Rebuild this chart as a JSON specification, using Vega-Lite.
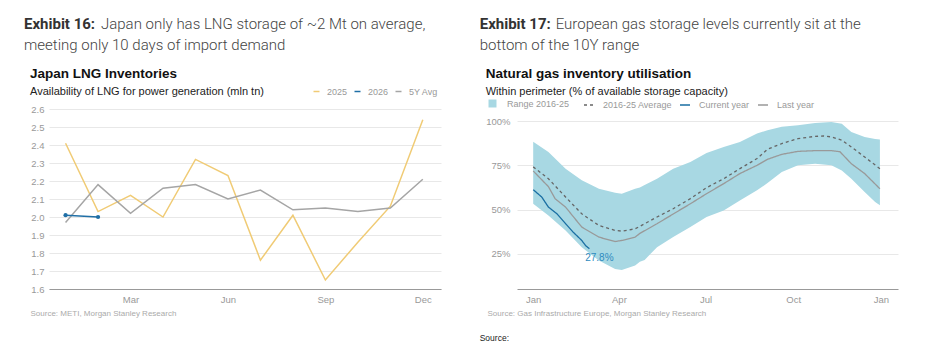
{
  "$schema": "https://vega.github.io/schema/vega-lite/v6.json",
  "background": "white",
  "padding": {"left": 24, "top": 16, "right": 5, "bottom": 5},
  "spacing": 38,
  "resolve": {"scale": {"color": "independent", "fill": "independent", "stroke": "independent", "strokeDash": "independent"}, "legend": {"color": "independent", "fill": "independent", "stroke": "independent", "strokeDash": "independent"}},
  "config": {
    "view": {"stroke": null},
    "font": "Liberation Sans",
    "axis": {"labelFont": "Liberation Sans", "labelColor": "#999999", "labelFontSize": 9.5, "gridColor": "#e8e8e8", "gridWidth": 1, "domainColor": "#aaaaaa", "ticks": false},
    "legend": {"labelFont": "Liberation Sans", "labelColor": "#999999", "labelFontSize": 9, "title": null, "gridAlign": "none"}
  },
  "datasets": {
    "jp": [
      {"m": 1, "s": "2025", "v": 2.41}, {"m": 2, "s": "2025", "v": 2.03}, {"m": 3, "s": "2025", "v": 2.12}, {"m": 4, "s": "2025", "v": 2.00},
      {"m": 5, "s": "2025", "v": 2.32}, {"m": 6, "s": "2025", "v": 2.23}, {"m": 7, "s": "2025", "v": 1.76}, {"m": 8, "s": "2025", "v": 2.01},
      {"m": 9, "s": "2025", "v": 1.65}, {"m": 10, "s": "2025", "v": 1.86}, {"m": 11, "s": "2025", "v": 2.06}, {"m": 12, "s": "2025", "v": 2.54},
      {"m": 1, "s": "5Y Avg", "v": 1.97}, {"m": 2, "s": "5Y Avg", "v": 2.18}, {"m": 3, "s": "5Y Avg", "v": 2.02}, {"m": 4, "s": "5Y Avg", "v": 2.16},
      {"m": 5, "s": "5Y Avg", "v": 2.18}, {"m": 6, "s": "5Y Avg", "v": 2.10}, {"m": 7, "s": "5Y Avg", "v": 2.15}, {"m": 8, "s": "5Y Avg", "v": 2.04},
      {"m": 9, "s": "5Y Avg", "v": 2.05}, {"m": 10, "s": "5Y Avg", "v": 2.03}, {"m": 11, "s": "5Y Avg", "v": 2.05}, {"m": 12, "s": "5Y Avg", "v": 2.21},
      {"m": 1, "s": "2026", "v": 2.01}, {"m": 2, "s": "2026", "v": 2.00}
    ],
    "band": [
      {"d": "2025-01-01", "lo": 53.3, "hi": 88.4}, {"d": "2025-01-17", "lo": 46.7, "hi": 82.7}, {"d": "2025-02-04", "lo": 38.2, "hi": 73.2},
      {"d": "2025-02-21", "lo": 28.7, "hi": 66.6}, {"d": "2025-03-11", "lo": 21.1, "hi": 61.8}, {"d": "2025-03-28", "lo": 16.4, "hi": 59.6},
      {"d": "2025-04-04", "lo": 15.8, "hi": 59.0}, {"d": "2025-04-18", "lo": 18.3, "hi": 61.8}, {"d": "2025-04-23", "lo": 20.5, "hi": 62.5},
      {"d": "2025-04-28", "lo": 21.5, "hi": 64.0}, {"d": "2025-05-11", "lo": 28.7, "hi": 67.5}, {"d": "2025-05-28", "lo": 34.4, "hi": 73.2},
      {"d": "2025-06-15", "lo": 40.1, "hi": 77.0}, {"d": "2025-07-02", "lo": 45.8, "hi": 82.1}, {"d": "2025-07-20", "lo": 49.5, "hi": 85.5},
      {"d": "2025-08-06", "lo": 55.2, "hi": 88.3}, {"d": "2025-08-24", "lo": 60.9, "hi": 93.1}, {"d": "2025-09-04", "lo": 65.0, "hi": 95.0},
      {"d": "2025-09-19", "lo": 71.3, "hi": 96.9}, {"d": "2025-10-06", "lo": 75.1, "hi": 97.8}, {"d": "2025-10-24", "lo": 76.0, "hi": 99.1},
      {"d": "2025-11-10", "lo": 75.1, "hi": 99.7}, {"d": "2025-11-21", "lo": 72.2, "hi": 98.7}, {"d": "2025-12-01", "lo": 67.5, "hi": 94.0},
      {"d": "2025-12-15", "lo": 60.0, "hi": 91.2}, {"d": "2025-12-26", "lo": 54.3, "hi": 90.0}, {"d": "2025-12-31", "lo": 52.4, "hi": 89.7}
    ],
    "eu": [
      {"d": "2025-01-01", "s": "2016-25 Average", "v": 74.2}, {"d": "2025-01-17", "s": "2016-25 Average", "v": 67.5}, {"d": "2025-02-04", "s": "2016-25 Average", "v": 57.1},
      {"d": "2025-02-21", "s": "2016-25 Average", "v": 47.6}, {"d": "2025-03-11", "s": "2016-25 Average", "v": 41.0}, {"d": "2025-03-28", "s": "2016-25 Average", "v": 38.2},
      {"d": "2025-04-04", "s": "2016-25 Average", "v": 37.8}, {"d": "2025-04-18", "s": "2016-25 Average", "v": 39.1}, {"d": "2025-04-23", "s": "2016-25 Average", "v": 40.5},
      {"d": "2025-05-11", "s": "2016-25 Average", "v": 45.8}, {"d": "2025-05-28", "s": "2016-25 Average", "v": 50.5}, {"d": "2025-06-15", "s": "2016-25 Average", "v": 56.2},
      {"d": "2025-07-02", "s": "2016-25 Average", "v": 62.4}, {"d": "2025-07-20", "s": "2016-25 Average", "v": 67.5}, {"d": "2025-08-06", "s": "2016-25 Average", "v": 73.2},
      {"d": "2025-08-24", "s": "2016-25 Average", "v": 78.9}, {"d": "2025-09-04", "s": "2016-25 Average", "v": 84.2}, {"d": "2025-09-19", "s": "2016-25 Average", "v": 87.4},
      {"d": "2025-10-06", "s": "2016-25 Average", "v": 90.2}, {"d": "2025-10-24", "s": "2016-25 Average", "v": 91.5}, {"d": "2025-11-02", "s": "2016-25 Average", "v": 91.7},
      {"d": "2025-11-10", "s": "2016-25 Average", "v": 91.2}, {"d": "2025-11-21", "s": "2016-25 Average", "v": 89.3}, {"d": "2025-12-01", "s": "2016-25 Average", "v": 85.5},
      {"d": "2025-12-15", "s": "2016-25 Average", "v": 79.8}, {"d": "2025-12-31", "s": "2016-25 Average", "v": 73.2},
      {"d": "2025-01-01", "s": "Last year", "v": 71.9}, {"d": "2025-01-17", "s": "Last year", "v": 63.0}, {"d": "2025-01-24", "s": "Last year", "v": 56.2},
      {"d": "2025-02-04", "s": "Last year", "v": 51.4}, {"d": "2025-02-21", "s": "Last year", "v": 40.1}, {"d": "2025-03-11", "s": "Last year", "v": 34.4},
      {"d": "2025-03-28", "s": "Last year", "v": 31.9}, {"d": "2025-04-04", "s": "Last year", "v": 32.5}, {"d": "2025-04-18", "s": "Last year", "v": 34.4},
      {"d": "2025-04-23", "s": "Last year", "v": 36.5}, {"d": "2025-05-11", "s": "Last year", "v": 42.0}, {"d": "2025-05-28", "s": "Last year", "v": 47.5},
      {"d": "2025-06-15", "s": "Last year", "v": 53.3}, {"d": "2025-07-02", "s": "Last year", "v": 59.0}, {"d": "2025-07-20", "s": "Last year", "v": 64.7},
      {"d": "2025-08-06", "s": "Last year", "v": 70.4}, {"d": "2025-08-24", "s": "Last year", "v": 75.1}, {"d": "2025-09-04", "s": "Last year", "v": 78.5},
      {"d": "2025-09-19", "s": "Last year", "v": 81.3}, {"d": "2025-10-06", "s": "Last year", "v": 83.0}, {"d": "2025-10-24", "s": "Last year", "v": 83.4},
      {"d": "2025-11-10", "s": "Last year", "v": 83.4}, {"d": "2025-11-19", "s": "Last year", "v": 82.8}, {"d": "2025-12-01", "s": "Last year", "v": 76.0},
      {"d": "2025-12-15", "s": "Last year", "v": 70.4}, {"d": "2025-12-31", "s": "Last year", "v": 61.8},
      {"d": "2025-01-01", "s": "Current year", "v": 61.3}, {"d": "2025-01-10", "s": "Current year", "v": 57.1}, {"d": "2025-01-17", "s": "Current year", "v": 51.4},
      {"d": "2025-01-26", "s": "Current year", "v": 47.6}, {"d": "2025-02-04", "s": "Current year", "v": 42.0}, {"d": "2025-02-12", "s": "Current year", "v": 37.2},
      {"d": "2025-02-21", "s": "Current year", "v": 32.5}, {"d": "2025-02-25", "s": "Current year", "v": 29.6}, {"d": "2025-03-01", "s": "Current year", "v": 27.8}
    ],
    "lbl": [{"d": "2025-03-01", "v": 27.8, "t": "27.8%"}]
  },
  "hconcat": [
    {
      "title": {"text": "Exhibit 16:", "anchor": "start", "frame": "bounds", "dx": 0, "offset": -15, "font": "Roboto", "fontSize": 15, "fontWeight": "bold", "color": "#333333"},
      "resolve": {"scale": {"color": "independent"}, "legend": {"color": "independent"}},
      "vconcat": [
        {
          "title": {"text": "Japan only has LNG storage of ~2 Mt on average,", "anchor": "start", "frame": "bounds", "dx": 77, "offset": 6, "font": "Roboto", "fontSize": 15, "fontWeight": 300, "color": "#444444"},
          "resolve": {"scale": {"color": "independent"}, "legend": {"color": "independent"}},
          "vconcat": [
            {
              "title": {"text": "meeting only 10 days of import demand", "anchor": "start", "frame": "bounds", "dx": -6, "offset": 14, "font": "Roboto", "fontSize": 15, "fontWeight": 300, "color": "#444444"},
              "resolve": {"scale": {"color": "independent"}, "legend": {"color": "independent"}},
              "vconcat": [
                {
                  "width": 392, "height": 180,
                  "title": {
                    "text": "Japan LNG Inventories", "subtitle": "Availability of LNG for power generation (mln tn)",
                    "anchor": "start", "frame": "bounds", "offset": -10,
                    "font": "Liberation Sans", "fontSize": 13.5, "fontWeight": "bold", "color": "#111111",
                    "subtitleFont": "Liberation Sans", "subtitleFontSize": 11, "subtitleColor": "#222222", "subtitlePadding": 6
                  },
                  "data": {"name": "jp"},
                  "encoding": {
                    "x": {
                      "field": "m", "type": "quantitative",
                      "scale": {"domain": [0.49, 12.56], "nice": false, "zero": false},
                      "axis": {
                        "values": [3, 6, 9, 12],
                        "labelExpr": "datum.value == 3 ? 'Mar' : datum.value == 6 ? 'Jun' : datum.value == 9 ? 'Sep' : 'Dec'",
                        "grid": false, "domain": true, "domainColor": "#999999", "labelPadding": 5,
                        "title": "Source: METI, Morgan Stanley Research", "titleFont": "Liberation Sans", "titleFontSize": 8,
                        "titleFontWeight": "normal", "titleColor": "#aaaaaa", "titleAnchor": "start", "titleAlign": "left",
                        "titleX": -19, "titleY": 26, "titleBaseline": "alphabetic"
                      }
                    },
                    "y": {
                      "field": "v", "type": "quantitative",
                      "scale": {"domain": [1.6, 2.6], "nice": false, "zero": false},
                      "axis": {"values": [1.6, 1.7, 1.8, 1.9, 2.0, 2.1, 2.2, 2.3, 2.4, 2.5, 2.6], "format": ".1f", "grid": true, "domain": false, "labelPadding": 5, "title": null}
                    },
                    "color": {
                      "field": "s", "type": "nominal",
                      "scale": {"domain": ["2025", "2026", "5Y Avg"], "range": ["#f0cb75", "#1f6fa6", "#a5a5a5"]},
                      "legend": {"orient": "none", "legendX": 263, "legendY": -22, "direction": "horizontal", "symbolType": "stroke", "symbolSize": 36, "symbolStrokeWidth": 1.5, "labelOffset": 6, "columnPadding": 3, "title": null}
                    }
                  },
                  "layer": [
                    {"mark": {"type": "line", "strokeWidth": 1.5}},
                    {"transform": [{"filter": "datum.s === '2026'"}], "mark": {"type": "point", "filled": true, "size": 18, "opacity": 1}}
                  ]
                }
              ]
            }
          ]
        }
      ]
    },
    {
      "title": {"text": "Exhibit 17:", "anchor": "start", "frame": "bounds", "dx": 0, "offset": -15, "font": "Roboto", "fontSize": 15, "fontWeight": "bold", "color": "#333333"},
      "resolve": {"scale": {"fill": "independent", "stroke": "independent", "strokeDash": "independent"}, "legend": {"fill": "independent", "stroke": "independent", "strokeDash": "independent"}},
      "vconcat": [
        {
          "title": {"text": "European gas storage levels currently sit at the", "anchor": "start", "frame": "bounds", "dx": 76, "offset": 6, "font": "Roboto", "fontSize": 15, "fontWeight": 300, "color": "#444444"},
          "resolve": {"scale": {"fill": "independent", "stroke": "independent", "strokeDash": "independent"}, "legend": {"fill": "independent", "stroke": "independent", "strokeDash": "independent"}},
          "vconcat": [
            {
              "title": {"text": "bottom of the 10Y range", "anchor": "start", "frame": "bounds", "dx": 0, "offset": 14, "font": "Roboto", "fontSize": 15, "fontWeight": 300, "color": "#444444"},
              "resolve": {"scale": {"fill": "independent", "stroke": "independent", "strokeDash": "independent"}, "legend": {"fill": "independent", "stroke": "independent", "strokeDash": "independent"}},
              "vconcat": [
                {
                  "title": {"text": "Source:", "orient": "bottom", "anchor": "start", "frame": "bounds", "dx": -6, "offset": 17, "font": "Liberation Sans", "fontSize": 8.5, "fontWeight": "normal", "color": "#222222"},
                  "resolve": {"scale": {"fill": "independent", "stroke": "independent", "strokeDash": "independent"}, "legend": {"fill": "independent", "stroke": "independent", "strokeDash": "independent"}},
                  "vconcat": [
                    {
                      "width": 381, "height": 180,
                      "title": {
                        "text": "Natural gas inventory utilisation", "subtitle": "Within perimeter (% of available storage capacity)",
                        "anchor": "start", "frame": "bounds", "offset": 2,
                        "font": "Liberation Sans", "fontSize": 13.5, "fontWeight": "bold", "color": "#111111",
                        "subtitleFont": "Liberation Sans", "subtitleFontSize": 11, "subtitleColor": "#222222", "subtitlePadding": 6
                      },
                      "encoding": {
                        "x": {
                          "field": "d", "type": "temporal",
                          "scale": {"type": "utc", "domain": [{"year": 2024, "month": 12, "date": 15, "utc": true}, {"year": 2026, "month": 1, "date": 19, "utc": true}]},
                          "axis": {
                            "values": [{"year": 2025, "month": 1, "date": 1, "utc": true}, {"year": 2025, "month": 4, "date": 1, "utc": true}, {"year": 2025, "month": 7, "date": 1, "utc": true}, {"year": 2025, "month": 10, "date": 1, "utc": true}, {"year": 2026, "month": 1, "date": 1, "utc": true}],
                            "labelExpr": "utcFormat(datum.value, '%b')", "grid": false, "domain": true, "domainColor": "#999999", "labelPadding": 5,
                            "title": "Source: Gas Infrastructure Europe, Morgan Stanley Research", "titleFont": "Liberation Sans", "titleFontSize": 8,
                            "titleFontWeight": "normal", "titleColor": "#aaaaaa", "titleAnchor": "start", "titleAlign": "left",
                            "titleX": -30, "titleY": 26, "titleBaseline": "alphabetic"
                          }
                        },
                        "y": {
                          "field": "v", "type": "quantitative",
                          "scale": {"domain": [5, 107], "nice": false, "zero": false},
                          "axis": {"values": [25, 50, 75, 100], "labelExpr": "datum.value + '%'", "grid": true, "domain": false, "labelPadding": 7, "title": null}
                        }
                      },
                      "layer": [
                        {
                          "data": {"name": "band"},
                          "mark": {"type": "area", "opacity": 1},
                          "encoding": {
                            "y": {"field": "lo", "type": "quantitative", "scale": {"domain": [5, 107], "nice": false, "zero": false},
                              "axis": {"values": [25, 50, 75, 100], "labelExpr": "datum.value + '%'", "grid": true, "domain": false, "labelPadding": 7, "title": null}},
                            "y2": {"field": "hi"},
                            "fill": {"datum": "Range 2016-25", "type": "nominal", "scale": {"range": ["#a8d8e3"]},
                              "legend": {"orient": "none", "legendX": -29, "legendY": -10, "symbolType": "square", "symbolSize": 64, "symbolStrokeWidth": 0, "labelOffset": 10, "title": null}}
                          }
                        },
                        {
                          "data": {"name": "eu"},
                          "mark": {"type": "line", "strokeWidth": 1.3},
                          "encoding": {
                            "stroke": {"field": "s", "type": "nominal", "scale": {"domain": ["2016-25 Average", "Current year", "Last year"], "range": ["#666666", "#1a6fa3", "#999999"]},
                              "legend": {"orient": "none", "legendX": 66, "legendY": -10, "direction": "horizontal", "symbolType": "stroke", "symbolSize": 100, "symbolStrokeWidth": 1.3, "labelOffset": 8, "columnPadding": 5, "title": null}},
                            "strokeDash": {"field": "s", "type": "nominal", "scale": {"domain": ["2016-25 Average", "Current year", "Last year"], "range": [[3, 3], [1, 0], [1, 0]]},
                              "legend": {"orient": "none", "legendX": 66, "legendY": -10, "direction": "horizontal", "symbolType": "stroke", "symbolSize": 100, "symbolStrokeWidth": 1.3, "labelOffset": 8, "columnPadding": 5, "title": null}}
                          }
                        },
                        {
                          "data": {"name": "lbl"},
                          "mark": {"type": "text", "dx": 10, "dy": 9, "fontSize": 10, "color": "#2e8bc0", "font": "Liberation Sans", "align": "center"},
                          "encoding": {"text": {"field": "t", "type": "nominal"}}
                        }
                      ]
                    }
                  ]
                }
              ]
            }
          ]
        }
      ]
    }
  ]
}
